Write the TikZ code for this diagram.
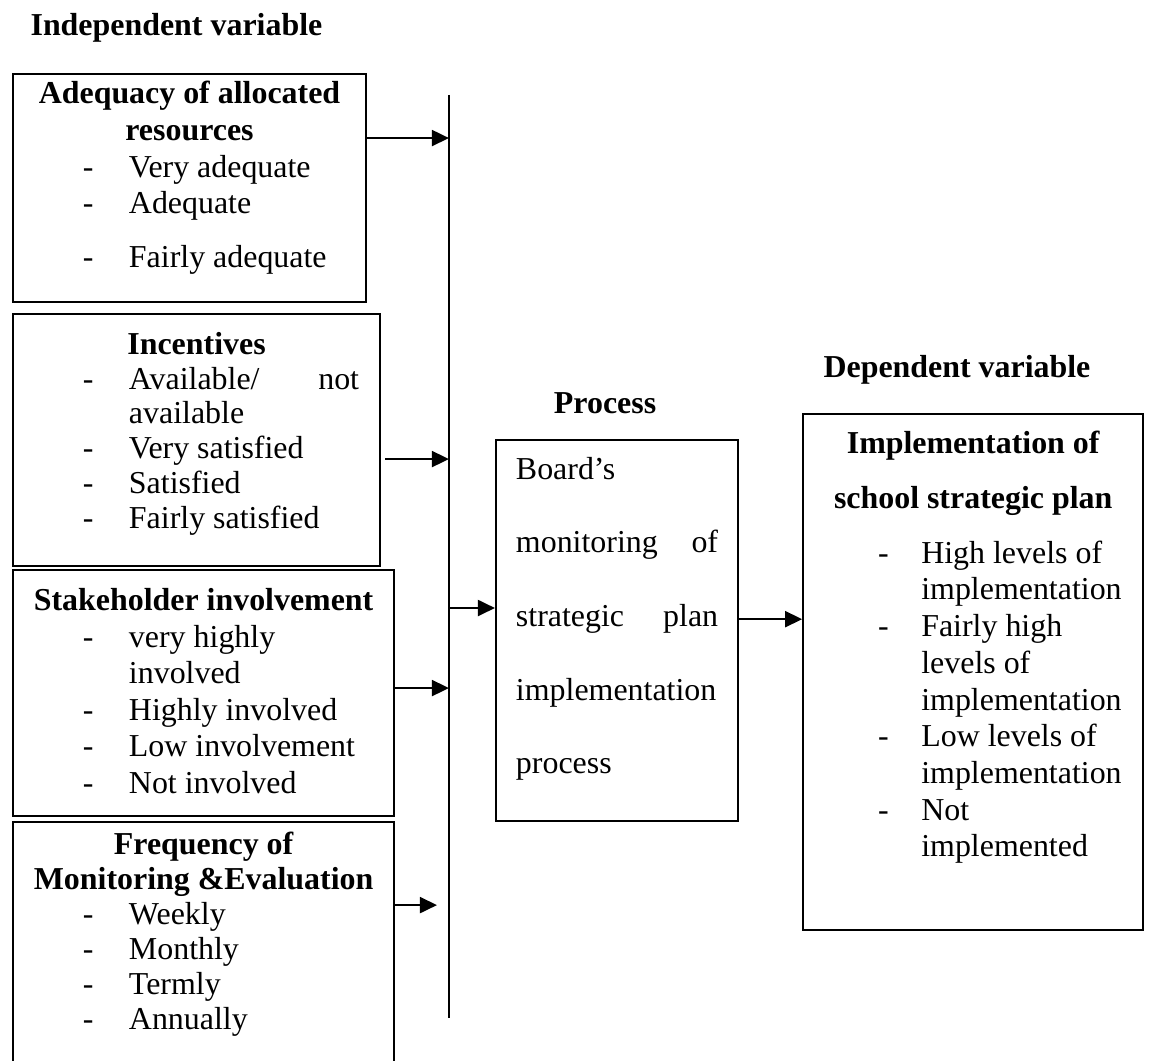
\documentclass[tikz,border=0pt]{standalone}
\usepackage{fontspec}
\setmainfont{Liberation Serif}
\usetikzlibrary{arrows.meta}
\newlength\dashind \setlength\dashind{26.3pt}
\newlength\txtind \setlength\txtind{43.6pt}
\newcommand{\dashitem}[1]{\par\noindent\hangindent=\txtind\hangafter=1\hbox to\txtind{\hskip\dashind-\hfil}#1}

\begin{document}
\begin{tikzpicture}[x=1pt,y=-1pt,font=\fontsize{12}{13.8}\selectfont,
  box/.style={draw,line width=0.8pt,inner sep=0pt,anchor=north west},
  head/.style={font=\fontsize{12}{13.8}\selectfont\bfseries,inner sep=0pt,anchor=base},
  arr/.style={-{Triangle[length=6.4pt,width=6pt]},line width=0.8pt}]
\useasboundingbox (0,0) rectangle (432,398.6);
% independent side
\node[head,anchor=base west] (indep) at (11.3,13.2) {Independent variable};
\node[box] (res) at (4.5,27.4) {\parbox[t][85.7pt][t]{132.7pt}{\vspace*{1.6pt}{\centering\bfseries\strut Adequacy of allocated\\ resources\par}
  \dashitem{Very adequate}
  \dashitem{Adequate}
  \par\vspace{6.5pt}
  \dashitem{Fairly adequate}}};
\node[box] (inc) at (4.5,117.7) {\parbox[t][94.8pt][t]{138pt}{\fontsize{12}{13.1}\selectfont\vspace*{5.9pt}{\centering\bfseries\strut Incentives\par}
  \dashitem{\hbox to 86.5pt{Available/\hfill not}\newline available}
  \dashitem{Very satisfied}
  \dashitem{Satisfied}
  \dashitem{Fairly satisfied}}};
\node[box] (stake) at (4.5,213.9) {\parbox[t][92.5pt][t]{143.3pt}{\fontsize{12}{13.7}\selectfont\vspace*{5.8pt}{\centering\bfseries\strut Stakeholder involvement\par}
  \dashitem{very highly\newline involved}
  \dashitem{Highly involved}
  \dashitem{Low involvement}
  \dashitem{Not involved}}};
\node[box] (freq) at (4.5,308.7) {\parbox[t][97.8pt][t]{143.3pt}{\fontsize{12}{13.2}\selectfont\vspace*{2.8pt}{\centering\bfseries\strut Frequency of\\ Monitoring \&Evaluation\par}
  \dashitem{Weekly}
  \dashitem{Monthly}
  \dashitem{Termly}
  \dashitem{Annually}}};
% process
\node[head] (proc) at (227.5,155.3) {Process};
\node[box] (board) at (186.1,165.1) {\parbox[t][143.3pt][t]{91pt}{\leftskip=7.5pt\rightskip=7.5pt\vspace*{5pt}\strut Board’s\\[13.9pt]
  monitoring\hfill of\\[13.9pt]
  strategic\hfill plan\\[13.9pt]
  implementation\\[13.9pt]
  process}};
% dependent side
\node[head] (dep) at (359.8,142.1) {Dependent variable};
\node[box] (impl) at (301.6,155.3) {\parbox[t][194pt][t]{127.8pt}{\setlength\dashind{28.2pt}\setlength\txtind{44.4pt}\vspace*{5pt}{\centering\bfseries\strut Implementation of\\[6.9pt] school strategic plan\par}\vspace{6.9pt}
  \dashitem{High levels of\newline implementation}
  \dashitem{Fairly high\newline levels of\newline implementation}
  \dashitem{Low levels of\newline implementation}
  \dashitem{Not\newline implemented}}};
% bus line and arrows
\coordinate (bustop) at (168.8,35.7);
\coordinate (busbot) at (168.8,382.8);
\draw[line width=0.8pt] (bustop) -- (busbot);
\coordinate (a1) at ([yshift=18.75pt]res.east);
\coordinate (a2) at ([xshift=1.5pt,yshift=-7.1pt]inc.east);
\coordinate (a3) at ([yshift=1.85pt]stake.east);
\coordinate (a4) at ([yshift=17.7pt]freq.east);
\coordinate (a5) at ([yshift=8.55pt]board.west);
\coordinate (a6) at ([yshift=4.35pt]board.east);
\draw[arr] (a1) -- (a1 -| bustop);
\draw[arr] (a2) -- (a2 -| bustop);
\draw[arr] (a3) -- (a3 -| bustop);
\draw[arr,shorten >=4.5pt] (a4) -- (a4 -| bustop);
\draw[arr] (a5 -| bustop) -- (a5);
\draw[arr] (a6) -- (a6 -| impl.west);
\end{tikzpicture}
\end{document}
